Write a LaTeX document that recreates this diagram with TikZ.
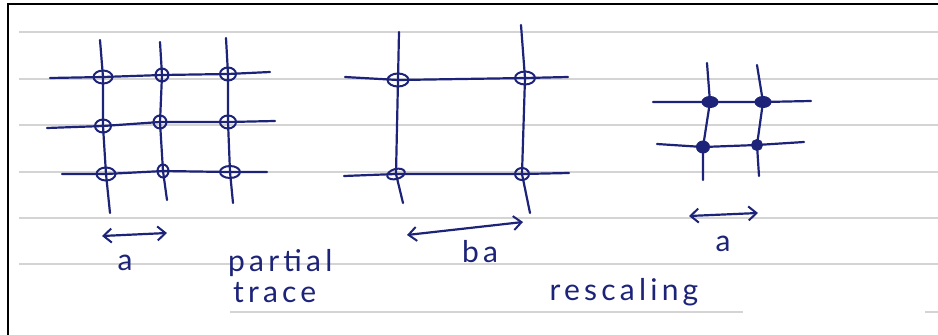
\documentclass[tikz,border=0pt]{standalone}
\usepackage{fontspec}
\newfontfamily\handfont[LetterSpace=14]{Lato}
\usetikzlibrary{arrows.meta,shapes.geometric}
\definecolor{ink}{HTML}{1C2378}
\definecolor{paperrule}{HTML}{D4D4D4}

\begin{document}
\begin{tikzpicture}[x=1pt,y=-1pt,
			pen/.style={draw=ink,line width=2.2pt,line cap=round,line join=round},
			site/.style={ellipse,draw=ink,line width=2pt,inner sep=0pt,minimum width=19pt,minimum height=13pt},
			smallsite/.style={site,minimum width=13pt,minimum height=13pt},
			filledsite/.style={ellipse,draw=ink,fill=ink,line width=1pt,inner sep=0pt,minimum width=16pt,minimum height=11pt},
			span/.style={pen,{Straight Barb[length=8pt,width=14pt,line width=2pt]}-{Straight Barb[length=8pt,width=14pt,line width=2pt]}},
			hand/.style={text=ink,font=\handfont\fontsize{30}{24}\selectfont,inner sep=0pt},
			ruled/.style={draw=paperrule,line width=1.8pt}
			]
			\useasboundingbox (0,0) rectangle (938,335);
			% lined paper
			\foreach \y in {32,79,125,172,218,264}
				\draw[ruled] (19,\y) -- (938,\y);
			\draw[ruled] (230,312) -- (743,312);
			\draw[ruled] (925,312) -- (938,312);
			\draw[black,line width=2pt] (8,335) -- (8,4) -- (938,4);

			% fine lattice
			\node[site] (l11) at (103,77) {};
			\node[smallsite] (l12) at (162,75) {};
			\node[site,minimum width=16pt] (l13) at (228,74) {};
			\node[site,minimum width=16pt] (l21) at (103,126) {};
			\node[smallsite] (l22) at (160,122) {};
			\node[site,minimum width=16pt] (l23) at (228,122) {};
			\node[site] (l31) at (106,174) {};
			\node[smallsite,minimum width=11pt] (l32) at (163,171) {};
			\node[site,minimum width=20pt,minimum height=12pt] (l33) at (230,172) {};
			\coordinate (lt1) at (100,40);  \coordinate (lb1) at (110,213);
			\coordinate (lt2) at (160,42);  \coordinate (lb2) at (167,200);
			\coordinate (lt3) at (226,38);  \coordinate (lb3) at (233,203);
			\coordinate (ll1) at (50,78);   \coordinate (lr1) at (270,72);
			\coordinate (ll2) at (47,128);  \coordinate (lr2) at (275,121);
			\coordinate (ll3) at (62,174);  \coordinate (lr3) at (267,172);
			\draw[pen] (lt1) -- (l11.center) -- (l21.center) -- (l31.center) -- (lb1);
			\draw[pen] (lt2) -- (l12.center) -- (l22.center) -- (l32.center) -- (lb2);
			\draw[pen] (lt3) -- (l13.center) -- (l23.center) -- (l33.center) -- (lb3);
			\draw[pen] (ll1) -- (l11.center) -- (l12.center) -- (l13.center) -- (lr1);
			\draw[pen] (ll2) -- (l21.center) -- (l22.center) -- (l23.center) -- (lr2);
			\draw[pen] (ll3) -- (l31.center) -- (l32.center) -- (l33.center) -- (lr3);
			\coordinate (la) at (102,236);
			\coordinate (lz) at (167,233);
			\draw[span] (la) -- (lz);
			\node[hand] (lspacing) at (125,263) {a};

			\node[hand,anchor=west] (partial) at (228,263) {partial};
			\node[hand,anchor=west] (trace) at (233,293) {trace};

			% coarse lattice
			\node[site,minimum width=21pt] (m11) at (398,80) {};
			\node[site,minimum width=20pt] (m12) at (525,78) {};
			\node[site,minimum width=18pt,minimum height=10pt,rotate=15] (m21) at (396,174) {};
			\node[smallsite,minimum width=14pt,minimum height=12pt] (m22) at (522,174) {};
			\coordinate (mt1) at (399,32);  \coordinate (mb1) at (403,203);
			\coordinate (mt2) at (521,25);  \coordinate (mb2) at (530,213);
			\coordinate (ml1) at (345,77);  \coordinate (mr1) at (568,77);
			\coordinate (ml2) at (344,176); \coordinate (mr2) at (569,173);
			\draw[pen] (mt1) -- (m11.center) -- (m21.center) -- (mb1);
			\draw[pen] (mt2) -- (m12.center) -- (m22.center) -- (mb2);
			\draw[pen] (ml1) -- (m11.center) -- (m12.center) -- (mr1);
			\draw[pen] (ml2) -- (m21.center) -- (m22.center) -- (mr2);
			\coordinate (ma) at (407,235);
			\coordinate (mz) at (523,222);
			\draw[span] (ma) -- (mz);
			\node[hand] (mspacing) at (480,252) {ba};

			\node[hand] (rescale) at (624,292) {rescaling};

			% rescaled lattice
			\node[filledsite] (r11) at (710,102) {};
			\node[filledsite] (r12) at (763,102) {};
			\node[filledsite,minimum width=13pt,minimum height=12pt] (r21) at (703,147) {};
			\node[filledsite,minimum width=11pt,minimum height=11pt] (r22) at (757,145) {};
			\coordinate (rt1) at (707,63);  \coordinate (rb1) at (703,180);
			\coordinate (rt2) at (757,65);  \coordinate (rb2) at (759,176);
			\coordinate (rl1) at (653,102); \coordinate (rr1) at (811,101);
			\coordinate (rl2) at (657,144); \coordinate (rr2) at (804,142);
			\draw[pen] (rt1) -- (r11.center) -- (r21.center) -- (rb1);
			\draw[pen] (rt2) -- (r12.center) -- (r22.center) -- (rb2);
			\draw[pen] (rl1) -- (r11.center) -- (r12.center) -- (rr1);
			\draw[pen] (rl2) -- (r21.center) -- (r22.center) -- (rr2);
			\coordinate (ra) at (689,216);
			\coordinate (rz) at (758,213);
			\draw[span] (ra) -- (rz);
			\node[hand] (rspacing) at (723,244) {a};
		\end{tikzpicture}
\end{document}
